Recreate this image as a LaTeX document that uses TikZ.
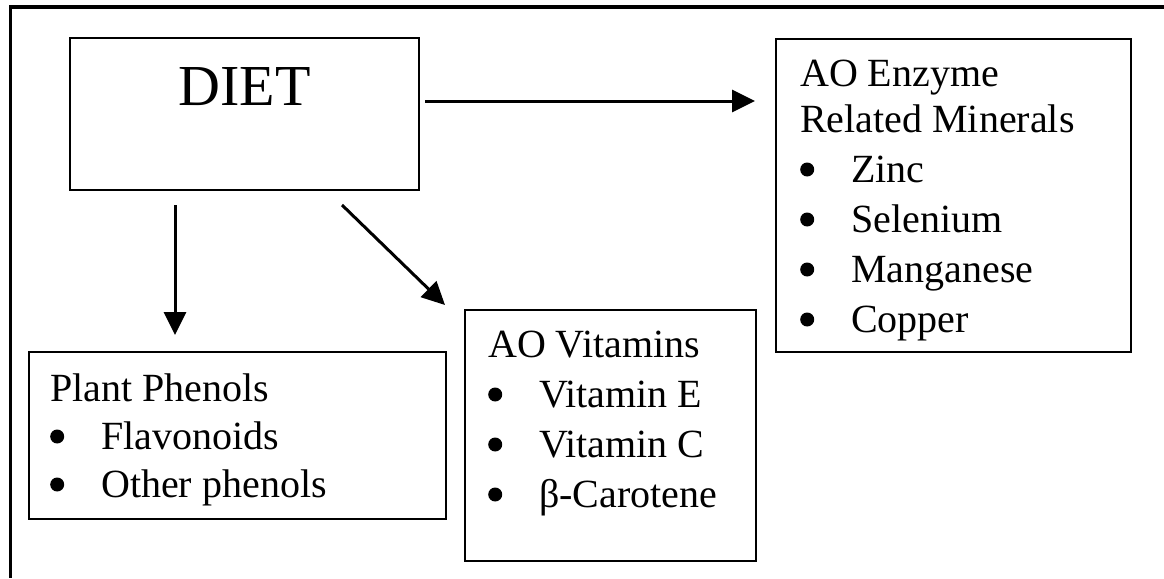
\documentclass[tikz,border=0pt]{standalone}
\usepackage{fontspec}
\setmainfont{Liberation Serif}
\usetikzlibrary{arrows.meta,calc}
\newcommand\dotmark{\raisebox{5.5pt}{\tikz\fill[black] (0pt,0pt) circle[radius=7pt];}}
\newcommand\bitem[1]{\makebox[51pt][l]{\dotmark}#1}
\begin{document}
\begin{tikzpicture}[x=1pt,y=-1pt,
  box/.style={draw=black,line width=2.2pt,inner sep=0pt,outer sep=0pt},
  txt/.style={anchor=base west,align=left,inner sep=0pt,font=\fontsize{40}{50}\selectfont},
  arr/.style={line width=3pt,-{Triangle[length=23pt,width=22pt]}}]
\useasboundingbox (0,0) rectangle (1164,578);
% outer frame (cropped at right and bottom)
\draw[line width=3.5pt] (1164,7) -- (10.5,7) -- (10.5,578);
% boxes
\node[box,minimum width=349pt,minimum height=152pt] (diet) at (244.5,114) {};
\node[box,minimum width=355pt,minimum height=313pt] (enzyme) at (953.5,195.5) {};
\node[box,minimum width=417pt,minimum height=167pt] (plant) at (237.5,435.5) {};
\node[box,minimum width=291pt,minimum height=251pt] (vit) at (610.5,435.5) {};
% texts (anchored at the baseline of their last line)
\node[anchor=base,inner sep=0pt,font=\fontsize{58}{60}\selectfont] (dietlabel) at (244.5,105) {DIET};
\node[txt] (enzymetext) at (800,332) {AO Enzyme\\[-4pt]Related Minerals\\\bitem{Zinc}\\\bitem{Selenium}\\\bitem{Manganese}\\\bitem{Copper}};
\node[txt] (planttext) at (50,497) {Plant Phenols\\[-2pt]\bitem{Flavonoids}\\[-2pt]\bitem{Other phenols}};
\node[txt] (vittext) at (488,507) {AO Vitamins\\\bitem{Vitamin E}\\\bitem{Vitamin C}\\\bitem{β-Carotene}};
% arrow end points
\coordinate (h1) at ($(diet.north east)+(6,63)$);
\coordinate (h2) at ($(enzyme.north west)+(-21,62)$);
\coordinate (v1) at ($(diet.south west)+(105,15)$);
\coordinate (v2) at ($(plant.north west)+(146,-17)$);
\coordinate (d1) at ($(diet.south west)+(272,15)$);
\coordinate (d2) at ($(vit.north west)+(-20,-5)$);
\draw[arr] (h1) -- (h2);
\draw[arr] (v1) -- (v2);
\draw[arr] (d1) -- (d2);
\end{tikzpicture}
\end{document}
